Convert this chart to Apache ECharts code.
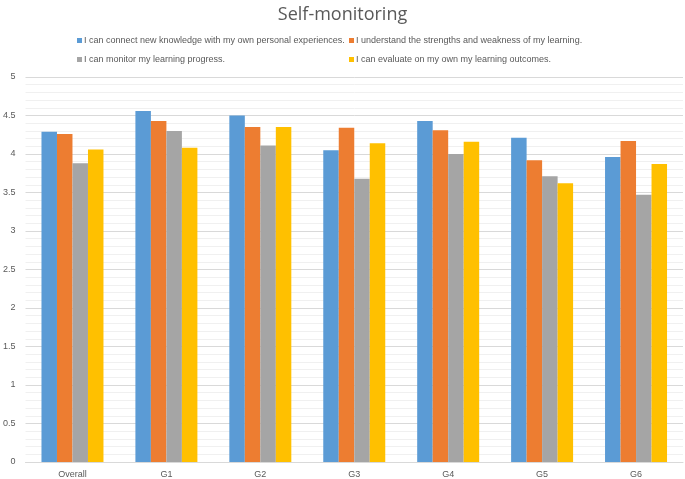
<!DOCTYPE html>
<html><head><meta charset="utf-8">
<script src="https://cdn.jsdelivr.net/npm/echarts@6/dist/echarts.min.js"></script>
<style>html,body{margin:0;padding:0;background:#fff}#c{width:685px;height:479px}</style>
</head><body><div id="c"></div>
<script>
const categories = ['Overall','G1','G2','G3','G4','G5','G6'];
const seriesNames = [
  'I can connect new knowledge with my own personal experiences.',
  'I understand the strengths and weakness of my learning.',
  'I can monitor my learning progress.',
  'I can evaluate on my own my learning outcomes.'
];
const connectValues  = [4.29, 4.56, 4.50, 4.05, 4.43, 4.21, 3.96];
const understandValues = [4.26, 4.43, 4.35, 4.34, 4.31, 3.92, 4.17];
const monitorValues  = [3.88, 4.30, 4.11, 3.68, 4.00, 3.71, 3.47];
const evaluateValues = [4.06, 4.08, 4.35, 4.14, 4.16, 3.62, 3.87];
const colors = ['#5B9BD5','#ED7D31','#A5A5A5','#FFC000'];
const allValues = [connectValues, understandValues, monitorValues, evaluateValues];

const fontFam = 'Liberation Sans, Arial, sans-serif';
const chart = echarts.init(document.getElementById('c'), null, {renderer:'canvas'});
const legendCommon = {
  orient:'vertical', top:31, itemWidth:5, itemHeight:5, itemGap:10, icon:'rect',
  textStyle:{color:'#595959', fontSize:9, fontFamily:fontFam, padding:[0,0,0,-3]}
};
chart.setOption({
  animation:false,
  color: colors,
  title:{text:'Self-monitoring', left:'center', top:1,
    textStyle:{color:'#595959', fontSize:18, fontWeight:'normal', fontFamily:'Open Sans, sans-serif'}},
  legend:[
    Object.assign({left:72, data:[seriesNames[0], seriesNames[2]]}, legendCommon),
    Object.assign({left:344, data:[seriesNames[1], seriesNames[3]]}, legendCommon)
  ],
  grid:{left:23, right:2, top:77, bottom:17, containLabel:false},
  xAxis:{type:'category', data:categories,
    axisLine:{lineStyle:{color:'#d9d9d9'}}, axisTick:{show:false},
    axisLabel:{color:'#595959', fontSize:9, fontFamily:fontFam, margin:8}},
  yAxis:{type:'value', min:0, max:5, interval:0.5,
    axisLine:{show:false}, axisTick:{show:false},
    axisLabel:{color:'#595959', fontSize:9, fontFamily:fontFam, margin:10},
    splitLine:{lineStyle:{color:'#d9d9d9'}},
    minorTick:{show:false, splitNumber:5},
    minorSplitLine:{show:true, lineStyle:{color:'#f0f0f0'}}},
  series: seriesNames.map((n,i)=>({
    name:n, type:'bar', data:allValues[i], barGap:'0%', barCategoryGap:'34%',
    itemStyle:{color:colors[i]}
  }))
});
</script></body></html>
